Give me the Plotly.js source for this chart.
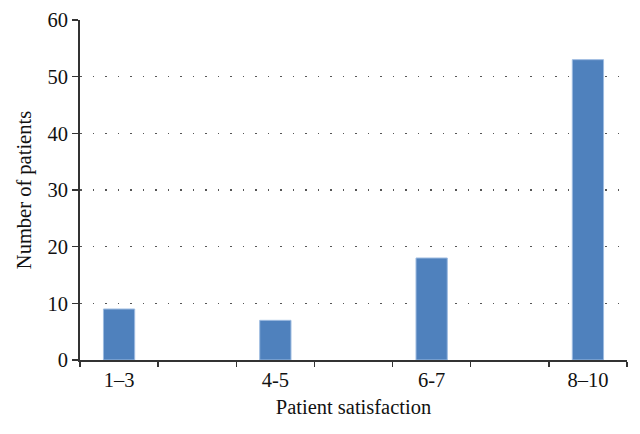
<!DOCTYPE html>
<html><head><meta charset="utf-8">
<script src="https://cdn.plot.ly/plotly-3.0.1.min.js"></script>
<style>body{margin:0;background:#fff}#c{width:640px;height:434px}</style>
</head><body><div id="c"></div>
<script>
const categories = ["1–3", "4-5", "6-7", "8–10"];
const positions = [0, 2, 4, 6];
const patients = [9, 7, 18, 53];
const yTicks = [0, 10, 20, 30, 40, 50, 60];
const slotEdges = [-0.5, 0.5, 1.5, 2.5, 3.5, 4.5, 5.5, 6.5];

const font = {family: "Liberation Serif, DejaVu Serif, serif", size: 20.5, color: "#111"};

Plotly.newPlot("c", [{
  type: "bar",
  x: positions,
  y: patients,
  width: 0.4,
  marker: {color: "#4F81BD", line: {color: "#9DBBE0", width: 1}},
  hoverinfo: "none"
}], {
  width: 640, height: 434,
  margin: {l: 80, r: 13, t: 20, b: 74},
  paper_bgcolor: "#fff", plot_bgcolor: "#fff",
  font: font,
  showlegend: false,
  xaxis: {
    range: [-0.5, 6.5],
    tickvals: positions, ticktext: categories,
    ticks: "", showgrid: false, zeroline: false,
    showline: true, linecolor: "#333", linewidth: 2,
    tickfont: font,
    minor: {tickvals: slotEdges, ticks: "outside", ticklen: 5, tickcolor: "#333", tickwidth: 1.5, showgrid: false},
    title: {text: "Patient satisfaction", font: font, standoff: 10}
  },
  yaxis: {
    range: [0, 60],
    tickvals: yTicks,
    ticks: "outside", ticklen: 6, tickcolor: "#333", tickwidth: 1.5,
    showline: true, linecolor: "#333", linewidth: 2,
    showgrid: true, gridcolor: "#555", griddash: "1.5px,11px", gridwidth: 1.2,
    zeroline: false,
    tickfont: font,
    title: {text: "Number of patients", font: font, standoff: 10}
  }
}, {displayModeBar: false, staticPlot: true});
</script></body></html>
